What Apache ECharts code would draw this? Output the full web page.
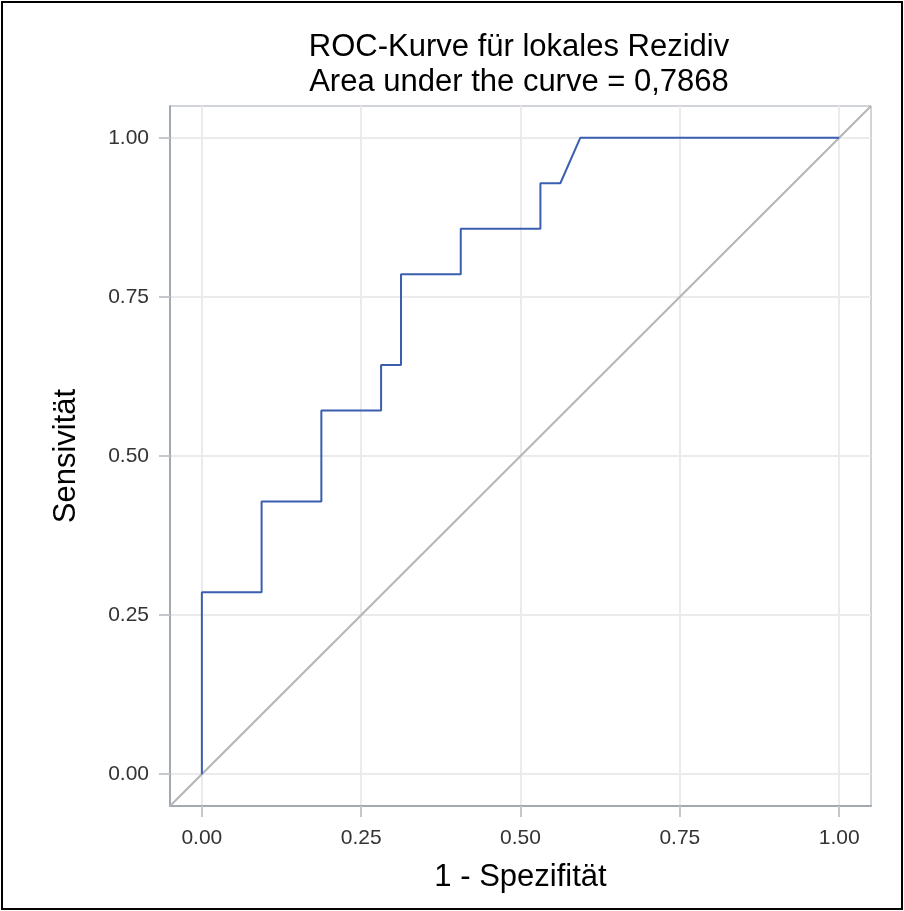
<!DOCTYPE html>
<html>
<head>
<meta charset="utf-8">
<script src="https://cdn.jsdelivr.net/npm/echarts@6/dist/echarts.min.js"></script>
<style>
  html, body { margin: 0; padding: 0; background: #fff; }
  #rocChart { width: 904px; height: 911px; }
</style>
</head>
<body>
<div id="rocChart"></div>
<script>
  // ROC-Kurve: 1 - Spezifität (x) und Sensitivität (y)
  const fpr = [0, 0, 0.09375, 0.09375, 0.1875, 0.1875, 0.28125, 0.28125, 0.3125, 0.3125,
    0.40625, 0.40625, 0.53125, 0.53125, 0.5625, 0.59375, 1];
  const tpr = [0, 0.2857, 0.2857, 0.4286, 0.4286, 0.5714, 0.5714, 0.6429, 0.6429, 0.7857,
    0.7857, 0.8571, 0.8571, 0.9286, 0.9286, 1, 1];
  const diagX = [-0.05, 1.05];
  const diagY = [-0.05, 1.05];
  const tickValues = [0, 0.25, 0.5, 0.75, 1];
  const titleLines = ['ROC-Kurve für lokales Rezidiv', 'Area under the curve = 0,7868'];

  const chart = echarts.init(document.getElementById('rocChart'));
  const font = '"Liberation Sans", Arial, sans-serif';
  const axisGray = '#a3a9b0';

  function axisCommon (name, nameGap, labelMargin) {
    return {
      type: 'value',
      min: -0.05,
      max: 1.05,
      name: name,
      nameLocation: 'middle',
      nameGap: nameGap,
      nameTextStyle: { fontFamily: font, fontSize: 31, color: '#000' },
      axisLine: { show: true, onZero: false, lineStyle: { color: axisGray, width: 2 } },
      axisTick: { show: true, length: 11, customValues: tickValues, lineStyle: { color: '#c4c8cc', width: 2 } },
      axisLabel: {
        customValues: tickValues,
        formatter: v => v.toFixed(2),
        margin: labelMargin,
        fontFamily: font,
        fontSize: 21,
        color: '#333'
      },
      splitLine: { show: true, lineStyle: { color: '#ebebeb', width: 2 } }
    };
  }

  const option = {
    animation: false,
    backgroundColor: '#fff',
    title: {
      text: titleLines.join('\n'),
      left: 514,
      top: 25,
      textAlign: 'center',
      textStyle: { fontFamily: font, fontSize: 31, fontWeight: 'normal', color: '#000', lineHeight: 35 }
    },
    grid: {
      left: 170, top: 106, right: 33, bottom: 105,
      show: true, borderColor: axisGray, borderWidth: 1
    },
    xAxis: axisCommon('1 - Spezifität', 56, 22),
    yAxis: axisCommon('Sensivität', 88, 21),
    graphic: [{
      type: 'rect',
      shape: { x: 2, y: 2, width: 900, height: 907 },
      style: { fill: 'none', stroke: '#000', lineWidth: 2 },
      silent: true
    }],
    series: [
      {
        type: 'line',
        data: diagX.map((x, i) => [x, diagY[i]]),
        symbol: 'none',
        silent: true,
        lineStyle: { color: '#b5b5b5', width: 2 }
      },
      {
        type: 'line',
        data: fpr.map((x, i) => [x, tpr[i]]),
        symbol: 'none',
        lineStyle: { color: '#3a5fb0', width: 2 }
      }
    ]
  };

  chart.setOption(option);
  window.addEventListener('resize', function () {
    chart.resize();
  });
</script>
</body>
</html>
